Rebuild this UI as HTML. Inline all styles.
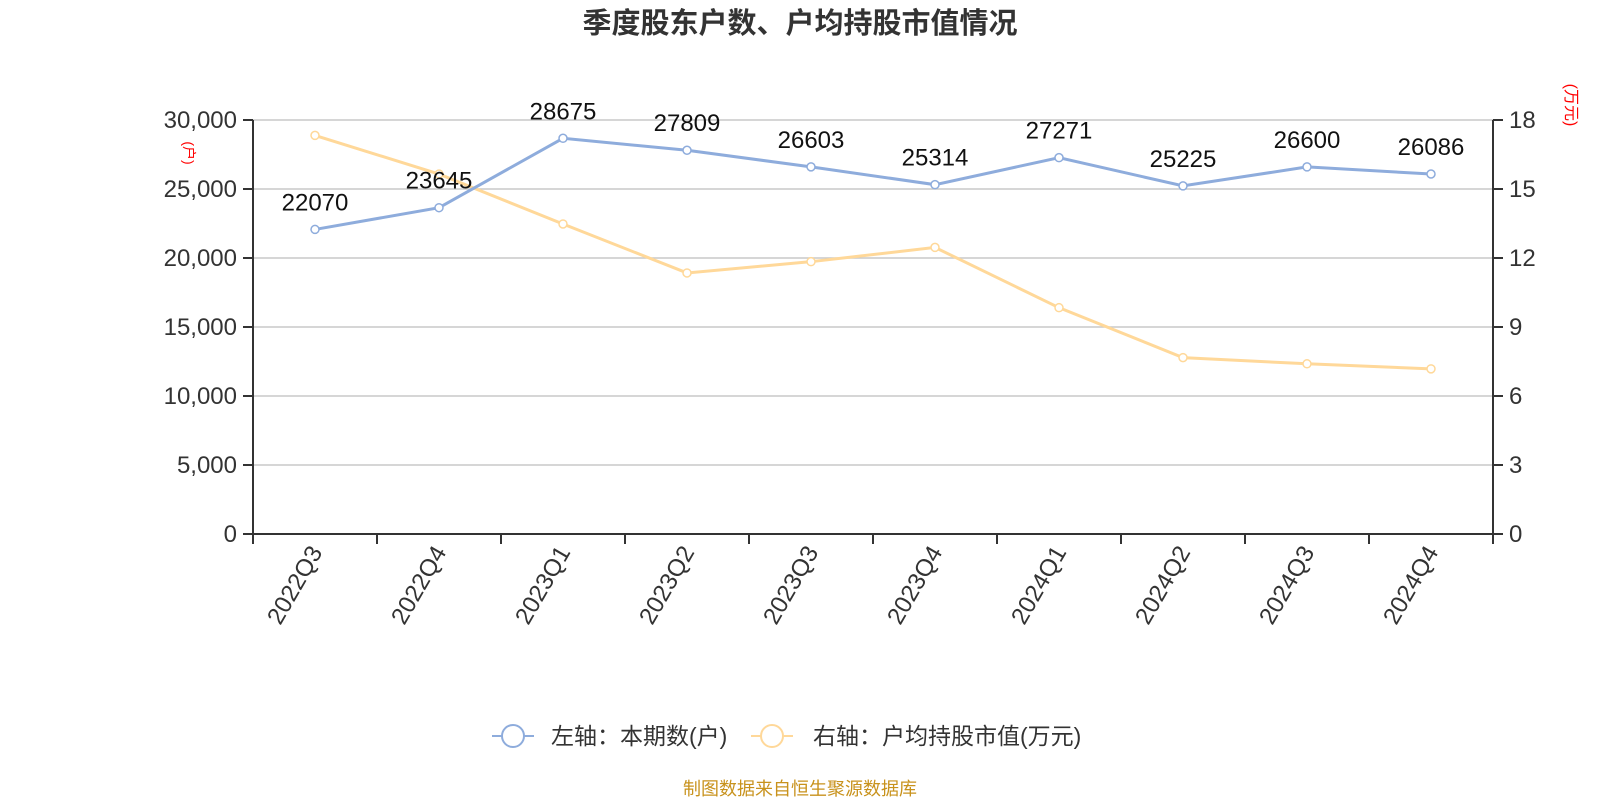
<!DOCTYPE html>
<html><head><meta charset="utf-8"><style>
body{margin:0;background:#fff;}
svg text{font-family:"Liberation Sans","Noto Sans CJK SC",sans-serif;}
</style></head><body>
<svg id="c" width="1600" height="800">
<text x="800" y="33" text-anchor="middle" font-size="29" font-weight="bold" fill="#333">季度股东户数、户均持股市值情况</text>
<text transform="translate(184,153) rotate(90)" text-anchor="middle" font-size="14" fill="#f00">(户)</text>
<text transform="translate(1566,105) rotate(90)" text-anchor="middle" font-size="16" fill="#f00">(万元)</text>
<g id="grid"></g><g id="axes"></g><g id="series"></g>
<g>
<g><line x1="492" y1="736" x2="534" y2="736" stroke="#8eacdc" stroke-width="2"/><circle cx="513" cy="736" r="11" fill="#fff" stroke="#8eacdc" stroke-width="2"/><text x="551" y="744" font-size="23" fill="#333">左轴：本期数(户)</text></g>
<g><line x1="751" y1="736" x2="793" y2="736" stroke="#ffd899" stroke-width="2"/><circle cx="772" cy="736" r="11" fill="#fff" stroke="#ffd899" stroke-width="2"/><text x="813" y="744" font-size="23" fill="#333">右轴：户均持股市值(万元)</text></g>
</g>
<text x="800" y="795" text-anchor="middle" font-size="18" fill="#c8921c">制图数据来自恒生聚源数据库</text>
</svg>
<script>
const categories=["2022Q3","2022Q4","2023Q1","2023Q2","2023Q3","2023Q4","2024Q1","2024Q2","2024Q3","2024Q4"];
const holders=[22070,23645,28675,27809,26603,25314,27271,25225,26600,26086];
const avgValue=[17.33,15.65,13.48,11.35,11.84,12.46,9.84,7.67,7.40,7.18];
const leftTicks=[0,5000,10000,15000,20000,25000,30000];
const rightTicks=[0,3,6,9,12,15,18];
const NS="http://www.w3.org/2000/svg";
const X0=253,X1=1493,Y0=534,Y1=120;
const bw=(X1-X0)/categories.length;
const xc=i=>X0+bw*(i+0.5);
const yl=v=>Y0-(v/30000)*(Y0-Y1);
const yr=v=>Y0-(v/18)*(Y0-Y1);
function mk(p,tag,a){const e=document.createElementNS(NS,tag);for(const k in a)e.setAttribute(k,a[k]);p.appendChild(e);return e;}
const grid=document.getElementById('grid'),axes=document.getElementById('axes'),ser=document.getElementById('series');
leftTicks.forEach((t,i)=>{
 if(t>0){const g=mk(grid,'line',{x1:X0,x2:X1,y1:yl(t),y2:yl(t),stroke:'#c8c8c8','stroke-width':1.5});
 
 }
 const tk=mk(axes,'line',{x1:X0-10,x2:X0,y1:yl(t),y2:yl(t),stroke:'#333','stroke-width':2});
 
 
 const tx=mk(axes,'text',{x:X0-16,y:yl(t)+8,'text-anchor':'end','font-size':24,fill:'#333'});
 tx.textContent=t.toLocaleString('en-US');
 
 
});
rightTicks.forEach(t=>{
 const tk=mk(axes,'line',{x1:X1,x2:X1+10,y1:yr(t),y2:yr(t),stroke:'#333','stroke-width':2});
 
 
 const tx=mk(axes,'text',{x:X1+16,y:yr(t)+8,'font-size':24,fill:'#333'});
 tx.textContent=t;
 
 
});
[[X0,Y1,X0,Y0,'left-axis'],[X1,Y1,X1,Y0,'right-axis'],[X0,Y0,X1,Y0,'x-axis']].forEach(a=>{
 const l=mk(axes,'line',{x1:a[0],y1:a[1],x2:a[2],y2:a[3],stroke:'#333','stroke-width':2});
 
 
});
for(let i=0;i<=categories.length;i++){
 const tk=mk(axes,'line',{x1:X0+bw*i,x2:X0+bw*i,y1:Y0,y2:Y0+10,stroke:'#333','stroke-width':2});
 
 
}
categories.forEach((c,i)=>{
 const tx=mk(axes,'text',{transform:`translate(${xc(i)+8},${Y0+18}) rotate(-60)`,'text-anchor':'end','font-size':24,fill:'#333'});
 tx.textContent=c;
 
 
});
function series(vals,yf,col,name,labels){
 const pl=mk(ser,'polyline',{points:vals.map((v,i)=>xc(i)+','+yf(v)).join(' '),fill:'none',stroke:col,'stroke-width':3});
 
 
 vals.forEach((v,i)=>{
  const c=mk(ser,'circle',{cx:xc(i),cy:yf(v),r:4,fill:'#fff',stroke:col,'stroke-width':1.5});
  
  
  if(labels){const t=mk(ser,'text',{x:xc(i),y:yf(v)-19,'text-anchor':'middle','font-size':24,fill:'#111'});
   t.textContent=v;
   
   }
 });
}
series(avgValue,yr,'#ffd899','avg-value',false);
series(holders,yl,'#8eacdc','holders',true);
</script>
</body></html>
